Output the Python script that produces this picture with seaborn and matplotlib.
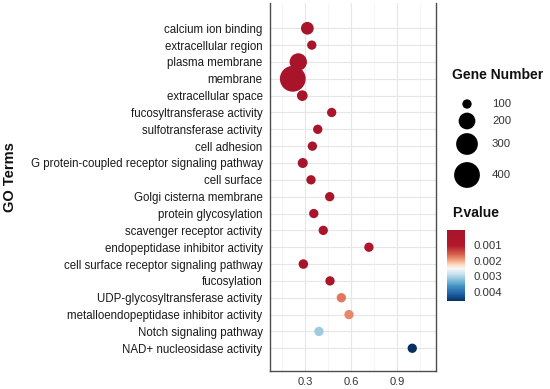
import numpy as np
import pandas as pd
import matplotlib
matplotlib.use("Agg")
import matplotlib.pyplot as plt
import matplotlib.colors as mcolors
import matplotlib.colorbar as mcolorbar
import seaborn as sns

# ---------------- data ----------------
terms = [
    "calcium ion binding",
    "extracellular region",
    "plasma membrane",
    "membrane",
    "extracellular space",
    "fucosyltransferase activity",
    "sulfotransferase activity",
    "cell adhesion",
    "G protein-coupled receptor signaling pathway",
    "cell surface",
    "Golgi cisterna membrane",
    "protein glycosylation",
    "scavenger receptor activity",
    "endopeptidase inhibitor activity",
    "cell surface receptor signaling pathway",
    "fucosylation",
    "UDP-glycosyltransferase activity",
    "metalloendopeptidase inhibitor activity",
    "Notch signaling pathway",
    "NAD+ nucleosidase activity",
]
ratio = [0.315, 0.344, 0.256, 0.220, 0.282, 0.474, 0.383, 0.348, 0.285, 0.339,
         0.461, 0.357, 0.419, 0.717, 0.289, 0.463, 0.537, 0.587, 0.391, 1.000]
gene_number = [139, 95, 211, 442, 114, 81, 83, 86, 107, 86,
               81, 86, 81, 76, 102, 81, 74, 76, 81, 76]
p_value = [1e-6, 2e-6, 1e-8, 1e-10, 5e-6, 2e-4, 1e-4, 1e-4, 5e-5, 1e-4,
           3e-4, 1e-4, 2e-4, 6e-4, 5e-5, 3e-4, 0.0017, 0.0018, 0.0031, 0.0046]
size_breaks = [100, 200, 300, 400]
p_ticks = [0.001, 0.002, 0.003, 0.004]
x_ticks = [0.3, 0.6, 0.9]

df = pd.DataFrame({"term": terms, "ratio": ratio,
                   "Gene Number": gene_number, "P.value": p_value})

# ---------------- styles ----------------
W, H = 550, 389
DPI = 100
FONT = ["Liberation Sans", "DejaVu Sans"]
sns.set_style("white")
plt.rcParams["font.family"] = FONT

cmap = mcolors.LinearSegmentedColormap.from_list("rdbu_custom", [
    (0.00, "#a8142a"), (0.22, "#b2182b"), (0.34, "#d6604d"), (0.43, "#f4a582"),
    (0.49, "#fddbc7"), (0.54, "#f7f7f7"), (0.61, "#d1e5f0"), (0.69, "#92c5de"),
    (0.79, "#4393c3"), (0.89, "#2166ac"), (1.00, "#053061")])
hue_norm = (0.0, 0.0046)
SIZES = (45, 345)
SIZE_NORM = (100, 400)

def size_of(v):
    return SIZES[0] + (v - SIZE_NORM[0]) / (SIZE_NORM[1] - SIZE_NORM[0]) * (SIZES[1] - SIZES[0])

fig = plt.figure(figsize=(W / DPI, H / DPI), dpi=DPI)
L, R, T, B = 269.5, 436, 3, 371
ax = fig.add_axes([L / W, 1 - B / H, (R - L) / W, (B - T) / H])

ax.set_axisbelow(True)
sns.scatterplot(data=df, x="ratio", y="term", hue="P.value", size="Gene Number",
                palette=cmap, hue_norm=hue_norm, sizes=SIZES, size_norm=SIZE_NORM,
                linewidth=0, edgecolor="none", alpha=1, legend=False, ax=ax, zorder=3)

ax.set_xlim(0.068, 1.155)
ax.set_ylim(len(terms) - 1 + 1.35, -1.5)
ax.set_xticks(x_ticks)
ax.set_xticklabels([f"{t:.1f}" for t in x_ticks])
ax.set_xticks([0.15, 0.45, 0.75, 1.05], minor=True)
ax.grid(True, which="major", color="#e6e6e6", linewidth=0.8, zorder=0)
ax.grid(True, which="minor", axis="x", color="#f2f2f2", linewidth=0.5, zorder=0)
ax.set_xlabel("")
ax.set_ylabel("")
for side in ["left", "bottom", "right"]:
    ax.spines[side].set_color("#4d4d4d")
    ax.spines[side].set_linewidth(1.0)
ax.spines["top"].set_visible(False)
ax.tick_params(axis="both", which="major", length=3, width=0.8, color="#4d4d4d",
               labelcolor="#1a1a1a", pad=2)
ax.tick_params(axis="y", labelsize=8.3)
ax.tick_params(axis="x", labelsize=8, labelcolor="#333333", pad=1)
ax.tick_params(axis="x", which="minor", length=0)

fig.text(10 / W, 1 - 177 / H, "GO Terms", rotation=90, fontsize=10.5,
         fontweight="bold", ha="center", va="center", color="#111111")

# ---------------- size legend (manual) ----------------
lax = fig.add_axes([0, 0, 1, 1], facecolor="none")
lax.set_xlim(0, W)
lax.set_ylim(H, 0)
lax.axis("off")
lax.text(452, 75, "Gene Number", fontsize=10, fontweight="bold",
         ha="left", va="center", color="#111111")
key_y = [104, 121, 144, 175]
lax.scatter([467] * len(size_breaks), key_y, s=[size_of(v) for v in size_breaks],
            color="black", linewidths=0)
for yy, v in zip(key_y, size_breaks):
    lax.text(492, yy, str(v), fontsize=8.2, ha="left", va="center", color="#333333")

lax.text(452, 213, "P.value", fontsize=10, fontweight="bold",
         ha="left", va="center", color="#111111")

# ---------------- colorbar ----------------
cax = fig.add_axes([447 / W, 1 - 301 / H, 18 / W, 71 / H])
cb = mcolorbar.ColorbarBase(cax, cmap=cmap,
                            norm=mcolors.Normalize(*hue_norm), orientation="vertical")
cb.outline.set_visible(False)
cax.invert_yaxis()
cb.set_ticks(p_ticks)
cb.set_ticklabels([f"{t:.3f}" for t in p_ticks])
cax.tick_params(length=3, width=0.8, color="white", direction="in", pad=6,
                labelsize=8.2, labelcolor="#333333")

fig.savefig("out.png", dpi=DPI)
